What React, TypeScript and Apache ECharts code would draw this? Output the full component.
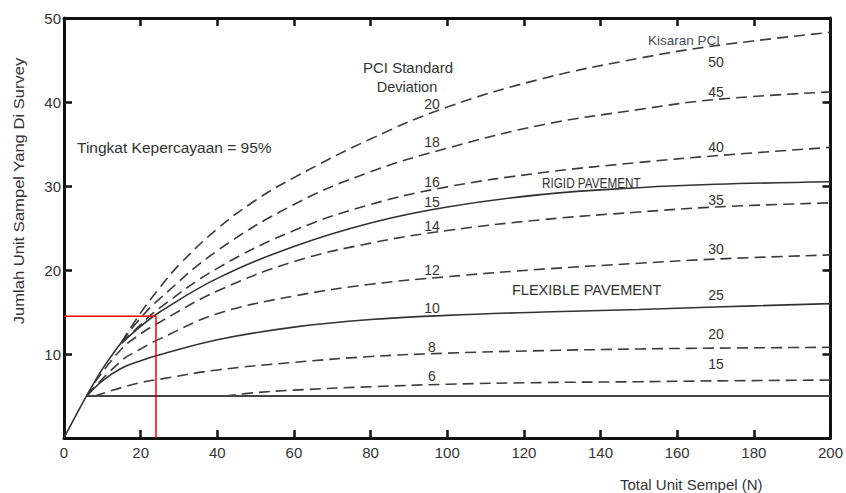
import React, { useEffect, useRef } from "react";
import * as echarts from "echarts";

// ---- data ----
const xTicks = [0, 20, 40, 60, 80, 100, 120, 140, 160, 180, 200];
const yTicks = [0, 10, 20, 30, 40, 50];

const envelope = [[0, 0], [3, 2.6], [6, 5.1], [10, 8.2], [15, 11.4]];
const sd20 = [[15, 11.4], [20, 14.9], [25, 17.9], [30, 20.6], [40, 24.9], [50, 28.3], [60, 31.0], [80, 35.6], [100, 39.4], [125, 42.8], [150, 45.2], [170, 46.7], [200, 48.3]];
const sd18 = [[15, 11.4], [20, 14.3], [25, 16.6], [40, 22.3], [60, 27.8], [80, 31.7], [100, 34.5], [125, 37.3], [150, 39.1], [170, 40.3], [200, 41.2]];
const sd16 = [[15, 11.3], [20, 13.5], [25, 15.5], [40, 20.2], [60, 24.7], [80, 27.8], [100, 29.9], [125, 31.6], [150, 32.8], [170, 33.6], [200, 34.6]];
const rigid15 = [[15, 11.3], [20, 13.3], [25, 15.0], [40, 19.0], [60, 22.8], [80, 25.6], [100, 27.5], [125, 29.0], [150, 29.8], [170, 30.2], [200, 30.5]];
const sd14 = [[8, 6.6], [15, 10.6], [20, 12.4], [25, 13.8], [40, 17.5], [60, 21.0], [80, 23.2], [100, 24.7], [125, 26.0], [150, 26.9], [170, 27.5], [200, 28.0]];
const sd12 = [[6, 5.1], [15, 9.2], [20, 10.6], [25, 11.8], [40, 14.8], [60, 16.9], [80, 18.3], [100, 19.2], [125, 20.1], [150, 20.8], [170, 21.3], [200, 21.8]];
const flexible10 = [[6, 5.0], [10, 6.8], [15, 8.3], [20, 9.2], [25, 9.9], [40, 11.7], [60, 13.2], [80, 14.1], [100, 14.6], [125, 15.0], [150, 15.3], [170, 15.6], [200, 16.0]];
const sd8 = [[8, 5.0], [15, 6.0], [20, 6.6], [25, 7.0], [40, 8.1], [60, 9.0], [80, 9.7], [100, 10.1], [125, 10.4], [150, 10.6], [170, 10.7], [200, 10.8]];
const sd6 = [[42, 5.0], [50, 5.4], [60, 5.7], [80, 6.1], [100, 6.4], [125, 6.6], [150, 6.7], [170, 6.8], [200, 6.9]];
const minLine = [[6, 5], [200, 5]];
const redGuide = [[0, 14.5], [24, 14.5], [24, 0]];

const sdLabels = ["20", "18", "16", "15", "14", "12", "10", "8", "6"];
const pciLabels = ["50", "45", "40", "35", "30", "25", "20", "15"];

const FONT = "'Liberation Sans', Arial, sans-serif";
const INK = "#333";

export default function App() {
  const ref = useRef<HTMLDivElement>(null);

  useEffect(() => {
    if (!ref.current) return;
    const chart = echarts.init(ref.current, null, { renderer: "svg" });

    const dashed = (name: string, data: number[][]) => ({
      name,
      type: "line",
      data,
      smooth: 0.4,
      showSymbol: false,
      silent: true,
      lineStyle: { color: "#3c3c3c", width: 1.6, type: [11, 6] },
    });
    const solid = (name: string, data: number[][], color = "#333", smooth: any = 0.4, width = 1.6) => ({
      name,
      type: "line",
      data,
      smooth,
      showSymbol: false,
      silent: true,
      lineStyle: { color, width, type: "solid" },
    });

    const sdY = [104, 142, 182, 202, 226, 270, 308, 347, 376];
    const pciY = [62, 92, 147, 200, 249, 295, 334, 364];

    const graphics: any[] = [];
    sdLabels.forEach((t, i) =>
      graphics.push({
        type: "text", x: 432, y: sdY[i],
        style: { text: t, fontSize: 14, fontFamily: FONT, fill: INK, align: "center", verticalAlign: "middle" },
      })
    );
    pciLabels.forEach((t, i) =>
      graphics.push({
        type: "text", x: 716, y: pciY[i],
        style: { text: t, fontSize: 14, fontFamily: FONT, fill: INK, align: "center", verticalAlign: "middle" },
      })
    );
    graphics.push(
      { type: "text", x: 408, y: 67, style: { text: "PCI Standard", fontSize: 15, fontFamily: FONT, fill: INK, align: "center", verticalAlign: "middle" } },
      { type: "text", x: 407, y: 87, style: { text: "Deviation", fontSize: 14.5, fontFamily: FONT, fill: INK, align: "center", verticalAlign: "middle" } },
      { type: "text", x: 77, y: 147, style: { text: "Tingkat Kepercayaan = 95%", fontSize: 15.5, fontFamily: FONT, fill: INK, align: "left", verticalAlign: "middle" } },
      { type: "text", x: 648, y: 40, style: { text: "Kisaran PCI", fontSize: 13.5, fontFamily: FONT, fill: "#4a4a5a", align: "left", verticalAlign: "middle" } },
      { type: "text", x: 542, y: 183, scaleX: 0.84, style: { text: "RIGID PAVEMENT", fontSize: 14, fontFamily: FONT, fill: INK, align: "left", verticalAlign: "middle" } },
      { type: "text", x: 512, y: 290, style: { text: "FLEXIBLE PAVEMENT", fontSize: 14.5, fontFamily: FONT, fill: INK, align: "left", verticalAlign: "middle" } },
      { type: "text", x: 620, y: 484, style: { text: "Total Unit Sempel (N)", fontSize: 15, fontFamily: FONT, fill: INK, align: "left", verticalAlign: "middle" } },
      { type: "text", x: 18.5, y: 191, rotation: Math.PI / 2, scaleX: 1.07, style: { text: "Jumlah Unit Sampel Yang Di Survey", fontSize: 15.5, fontFamily: FONT, fill: INK, align: "center", verticalAlign: "middle" } }
    );

    const axisLine = { show: true, onZero: false, lineStyle: { color: "#111", width: 3 } };
    const axisTick = { show: true, inside: true, length: 8, lineStyle: { color: "#111", width: 2.5 } };

    chart.setOption({
      animation: false,
      backgroundColor: "#fff",
      grid: { left: 64, right: 12, top: 18, bottom: 55, containLabel: false },
      xAxis: [
        {
          type: "value", position: "bottom", min: xTicks[0], max: xTicks[xTicks.length - 1], interval: 20,
          axisLine, axisTick, splitLine: { show: false },
          axisLabel: { fontSize: 15, fontFamily: FONT, color: INK, margin: 7 },
        },
        {
          type: "value", position: "top", min: xTicks[0], max: xTicks[xTicks.length - 1], interval: 20,
          axisLine, axisTick, splitLine: { show: false }, axisLabel: { show: false },
        },
      ],
      yAxis: [
        {
          type: "value", position: "left", min: yTicks[0], max: yTicks[yTicks.length - 1], interval: 10,
          axisLine, axisTick, splitLine: { show: false },
          axisLabel: { fontSize: 15, fontFamily: FONT, color: INK, margin: 3, showMinLabel: false },
        },
        {
          type: "value", position: "right", min: yTicks[0], max: yTicks[yTicks.length - 1], interval: 10,
          axisLine, axisTick, splitLine: { show: false }, axisLabel: { show: false },
        },
      ],
      series: [
        solid("envelope", envelope),
        dashed("sd20", sd20),
        dashed("sd18", sd18),
        dashed("sd16", sd16),
        solid("rigid15", rigid15),
        dashed("sd14", sd14),
        dashed("sd12", sd12),
        solid("flexible10", flexible10),
        dashed("sd8", sd8),
        dashed("sd6", sd6),
        solid("minLine", minLine, "#444", false, 2),
        solid("redGuide", redGuide, "#f00", false, 1.5),
      ],
      graphic: graphics,
    });

    return () => chart.dispose();
  }, []);

  return (
    <div
      ref={ref}
      style={{ position: "fixed", left: 0, top: 0, width: 846, height: 493, background: "#fff" }}
    />
  );
}
